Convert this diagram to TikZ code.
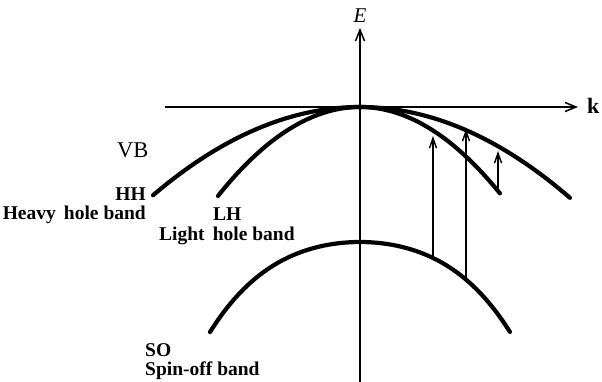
\documentclass[tikz,border=0pt]{standalone}
\usepackage{fontspec}
\setmainfont{Liberation Serif}
\usetikzlibrary{arrows.meta}
\begin{document}
\begin{tikzpicture}[x=1pt,y=-1pt,
  band/.style={line width=4.2pt,line cap=round},
  axis/.style={line width=1.5pt,-{Straight Barb[length=11pt,width=9pt,line width=1.5pt]}},
  trans/.style={line width=1.4pt,-{Straight Barb[length=10pt,width=7pt,line width=1.4pt]}},
  lbl/.style={font=\fontsize{19.5}{21}\selectfont\bfseries,inner sep=0pt}]
\useasboundingbox (0,0) rectangle (602,382);
% axes
\coordinate (eb) at (360,382);
\coordinate (et) at (360,28);
\coordinate (kl) at (165,107);
\coordinate (kr) at (578,107);
\draw[axis] (eb) -- (et);
\draw[axis] (kl) -- (kr);
\node[font=\fontsize{21}{23}\selectfont\itshape,inner sep=0pt] (E) at (360,16) {E};
\node[font=\fontsize{22}{23}\selectfont\bfseries,inner sep=0pt,anchor=west] (k) at (587,106) {k};
% bands
\draw[band] plot[domain=-2.07:2.1,samples=80] ({360+100*\x},{107+20.6*\x*\x});
\draw[band] plot[domain=-1.42:1.4,samples=80] ({360+100*\x},{107+44.1*\x*\x});
\draw[band] plot[domain=-1.5:1.5,samples=80] ({360+100*\x},{242+26.9*\x*\x+5.83*\x*\x*\x*\x});
% transitions
\coordinate (a1b) at (433,258);
\coordinate (a1t) at (433,136);
\coordinate (a2b) at (466,279.6);
\coordinate (a2t) at (466,129);
\coordinate (a3b) at (498,190);
\coordinate (a3t) at (498,151);
\draw[trans] (a1b) -- (a1t);
\draw[trans] (a2b) -- (a2t);
\draw[trans] (a3b) -- (a3t);
% labels
\node[font=\fontsize{22.5}{24}\selectfont,inner sep=0pt,anchor=west] (VB) at (117,150) {VB};
\node[lbl,anchor=east] (HH) at (146,194) {HH};
\node[lbl,anchor=east] (HHb) at (146,215) {Heavy\, hole band};
\node[lbl,anchor=west] (LH) at (213,214) {LH};
\node[lbl,anchor=west] (LHb) at (159,236) {Light\, hole band};
\node[lbl,anchor=west] (SO) at (145,350) {SO};
\node[lbl,anchor=west] (SOb) at (145,371) {Spin-off band};
\end{tikzpicture}
\end{document}
